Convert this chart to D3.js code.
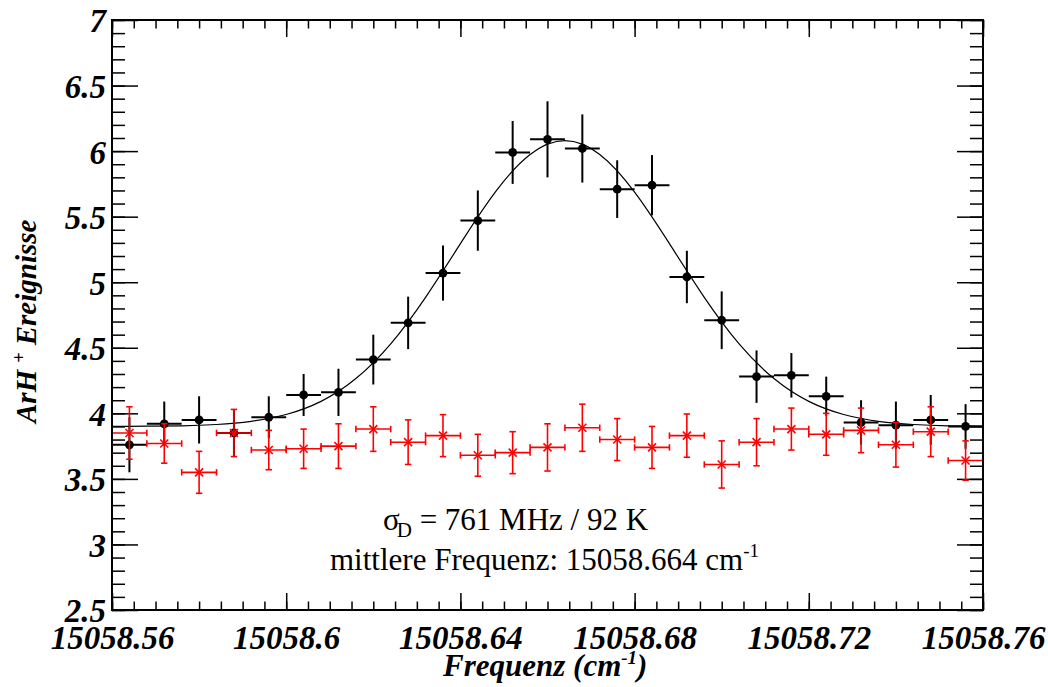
<!DOCTYPE html>
<html><head><meta charset="utf-8">
<script src="https://cdn.jsdelivr.net/npm/d3@7"></script>
<style>body{margin:0;background:#fff}svg{display:block}</style>
</head><body><svg id="c" width="1048" height="687"></svg>
<script>
// ---- data ----
const freq = [15058.564, 15058.572, 15058.580, 15058.588, 15058.596, 15058.604, 15058.612, 15058.620,
  15058.628, 15058.636, 15058.644, 15058.652, 15058.660, 15058.668, 15058.676, 15058.684, 15058.692,
  15058.700, 15058.708, 15058.716, 15058.724, 15058.732, 15058.740, 15058.748, 15058.756];
const freqErr = 0.004;
const signal = [3.76, 3.92, 3.95, 3.85, 3.97, 4.14, 4.16, 4.41, 4.69, 5.07, 5.47, 5.99, 6.09,
  6.02, 5.71, 5.74, 5.04, 4.71, 4.28, 4.29, 4.13, 3.93, 3.91, 3.95, 3.90];
const signalErr = [0.21, 0.17, 0.18, 0.18, 0.16, 0.16, 0.18, 0.19, 0.20, 0.21, 0.23, 0.24, 0.29,
  0.26, 0.22, 0.23, 0.20, 0.22, 0.20, 0.17, 0.15, 0.17, 0.18, 0.19, 0.17];
const background = [3.85, 3.77, 3.55, 3.85, 3.72, 3.73, 3.75, 3.88, 3.78, 3.83, 3.68, 3.70, 3.74,
  3.89, 3.80, 3.74, 3.83, 3.61, 3.78, 3.88, 3.84, 3.87, 3.76, 3.86, 3.64];
const backgroundErr = [0.20, 0.15, 0.16, 0.18, 0.15, 0.15, 0.17, 0.17, 0.17, 0.16, 0.16, 0.16, 0.18,
  0.18, 0.16, 0.16, 0.165, 0.18, 0.18, 0.16, 0.16, 0.17, 0.17, 0.19, 0.15];
const fitFreq = [15058.560, 15058.568, 15058.576, 15058.584, 15058.592, 15058.600, 15058.608,
  15058.616, 15058.624, 15058.632, 15058.640, 15058.648, 15058.656, 15058.664, 15058.672,
  15058.680, 15058.688, 15058.696, 15058.704, 15058.712, 15058.720, 15058.728, 15058.736,
  15058.744, 15058.752, 15058.760];
const fitValue = [3.900, 3.902, 3.905, 3.915, 3.939, 3.991, 4.091, 4.265, 4.530, 4.885, 5.294,
  5.687, 5.974, 6.080, 5.974, 5.687, 5.294, 4.885, 4.530, 4.265, 4.091, 3.991, 3.939, 3.915,
  3.905, 3.902];
const xTickValues = [15058.56, 15058.60, 15058.64, 15058.68, 15058.72, 15058.76];
const xTickLabels = ["15058.56", "15058.6", "15058.64", "15058.68", "15058.72", "15058.76"];
const yTickValues = [2.5, 3, 3.5, 4, 4.5, 5, 5.5, 6, 6.5, 7];
const yTickLabels = ["2.5", "3", "3.5", "4", "4.5", "5", "5.5", "6", "6.5", "7"];

// ---- layout ----
const svg = d3.select("#c");
const L = 112, R = 983, T = 20, B = 610;
const x = d3.scaleLinear().domain([15058.56, 15058.76]).range([L, R]);
const y = d3.scaleLinear().domain([2.5, 7]).range([B, T]);
const serif = "'Liberation Serif', 'Times New Roman', Times, serif";

svg.append("rect").attr("width", 1048).attr("height", 687).attr("fill", "#fff");

const xMinor = x.ticks(50);
const yMinor = y.ticks(45);

function ticks(axis, transform) {
  const g = svg.append("g").attr("transform", transform).call(axis);
  g.select(".domain").remove();
  g.selectAll(".tick line").attr("stroke", "#000").attr("stroke-width", 1.5);
  return g;
}
// minor ticks
ticks(d3.axisBottom(x).tickValues(xMinor).tickSize(-8.5).tickFormat(""), `translate(0,${B})`);
ticks(d3.axisTop(x).tickValues(xMinor).tickSize(-8.5).tickFormat(""), `translate(0,${T})`);
ticks(d3.axisLeft(y).tickValues(yMinor).tickSize(-13).tickFormat(""), `translate(${L},0)`);
ticks(d3.axisRight(y).tickValues(yMinor).tickSize(-13).tickFormat(""), `translate(${R},0)`);
// major ticks
ticks(d3.axisTop(x).tickValues(xTickValues).tickSize(-17).tickFormat(""), `translate(0,${T})`);
ticks(d3.axisRight(y).tickValues(yTickValues).tickSize(-26).tickFormat(""), `translate(${R},0)`);
const gx = ticks(d3.axisBottom(x).tickValues(xTickValues).tickSize(-17).tickPadding(16)
  .tickFormat((d, i) => xTickLabels[i]), `translate(0,${B})`);
const gy = ticks(d3.axisLeft(y).tickValues(yTickValues).tickSize(-26).tickPadding(6)
  .tickFormat((d, i) => yTickLabels[i]), `translate(${L},0)`);
[gx, gy].forEach(g => g.selectAll("text")
  .attr("font-family", serif).attr("font-size", 33).attr("font-weight", "bold")
  .attr("font-style", "italic").attr("fill", "#000"));
gy.selectAll("text").attr("dy", "0.36em");

// ---- data marks ----
const defs = svg.append("defs");
defs.append("clipPath").attr("id", "plot").append("rect")
  .attr("x", L).attr("y", T).attr("width", R - L).attr("height", B - T);
const plot = svg.append("g").attr("clip-path", "url(#plot)");

const sig = freq.map((f, i) => ({f, v: signal[i], e: signalErr[i]}));
const bkg = freq.map((f, i) => ({f, v: background[i], e: backgroundErr[i]}));

const gs = plot.append("g").attr("stroke", "#000").attr("stroke-width", 2);
gs.selectAll(".ev").data(sig).join("line")
  .attr("x1", d => x(d.f)).attr("x2", d => x(d.f))
  .attr("y1", d => y(d.v - d.e)).attr("y2", d => y(d.v + d.e));
gs.selectAll(".eh").data(sig).join("line").attr("class", "eh")
  .attr("x1", d => x(d.f - freqErr)).attr("x2", d => x(d.f + freqErr))
  .attr("y1", d => y(d.v)).attr("y2", d => y(d.v));
plot.append("g").selectAll("circle").data(sig).join("circle")
  .attr("cx", d => x(d.f)).attr("cy", d => y(d.v)).attr("r", 4.4).attr("fill", "#000");

plot.append("path")
  .datum(fitFreq.map((f, i) => [f, fitValue[i]]))
  .attr("fill", "none").attr("stroke", "#000").attr("stroke-width", 1.2)
  .attr("d", d3.line().x(d => x(d[0])).y(d => y(d[1])).curve(d3.curveNatural));

const gb = plot.append("g").attr("stroke", "#ff0000").attr("stroke-width", 1.6).attr("fill", "none");
const cap = 3.2;
bkg.forEach(d => {
  const cx = x(d.f), cy = y(d.v), y1 = y(d.v - d.e), y2 = y(d.v + d.e);
  const x1 = x(d.f - freqErr), x2 = x(d.f + freqErr);
  gb.append("line").attr("x1", cx).attr("x2", cx).attr("y1", y1).attr("y2", y2);
  gb.append("line").attr("x1", cx - cap).attr("x2", cx + cap).attr("y1", y1).attr("y2", y1);
  gb.append("line").attr("x1", cx - cap).attr("x2", cx + cap).attr("y1", y2).attr("y2", y2);
  gb.append("line").attr("x1", x1).attr("x2", x2).attr("y1", cy).attr("y2", cy);
  gb.append("line").attr("x1", x1).attr("x2", x1).attr("y1", cy - cap).attr("y2", cy + cap);
  gb.append("line").attr("x1", x2).attr("x2", x2).attr("y1", cy - cap).attr("y2", cy + cap);
  gb.append("line").attr("x1", cx - 4).attr("x2", cx + 4).attr("y1", cy - 4).attr("y2", cy + 4);
  gb.append("line").attr("x1", cx - 4).attr("x2", cx + 4).attr("y1", cy + 4).attr("y2", cy - 4);
});

// frame
svg.append("rect").attr("x", L).attr("y", T).attr("width", R - L).attr("height", B - T)
  .attr("fill", "none").attr("stroke", "#000").attr("stroke-width", 2);

// ---- annotations ----
const a1 = svg.append("text").attr("x", 383).attr("y", 530)
  .attr("font-family", serif).attr("font-size", 31).attr("fill", "#000");
a1.append("tspan").text("σ");
a1.append("tspan").attr("font-size", 21).attr("dy", 7).attr("dx", -3).text("D");
a1.append("tspan").attr("dy", -7).text(" = 761 MHz / 92 K");

const a2 = svg.append("text").attr("x", 330).attr("y", 570)
  .attr("font-family", serif).attr("font-size", 31).attr("fill", "#000");
a2.append("tspan").text("mittlere Frequenz: 15058.664 cm");
a2.append("tspan").attr("font-size", 19).attr("dy", -13).text("-1");

// axis titles
const xt = svg.append("text").attr("x", 443).attr("y", 676)
  .attr("font-family", serif).attr("font-size", 31).attr("font-weight", "bold")
  .attr("font-style", "italic").attr("fill", "#000");
xt.append("tspan").text("Frequenz (cm");
xt.append("tspan").attr("font-size", 19).attr("dy", -12).text("-1");
xt.append("tspan").attr("dy", 12).text(")");

const yt = svg.append("text").attr("transform", "translate(36,423) rotate(-90)")
  .attr("font-family", serif).attr("font-size", 29).attr("font-weight", "bold")
  .attr("font-style", "italic").attr("fill", "#000");
yt.append("tspan").text("ArH");
yt.append("tspan").attr("font-size", 18).attr("dx", 7).attr("dy", -11).text("+");
yt.append("tspan").attr("dy", 11).text(" Ereignisse");
</script>
</body></html>
